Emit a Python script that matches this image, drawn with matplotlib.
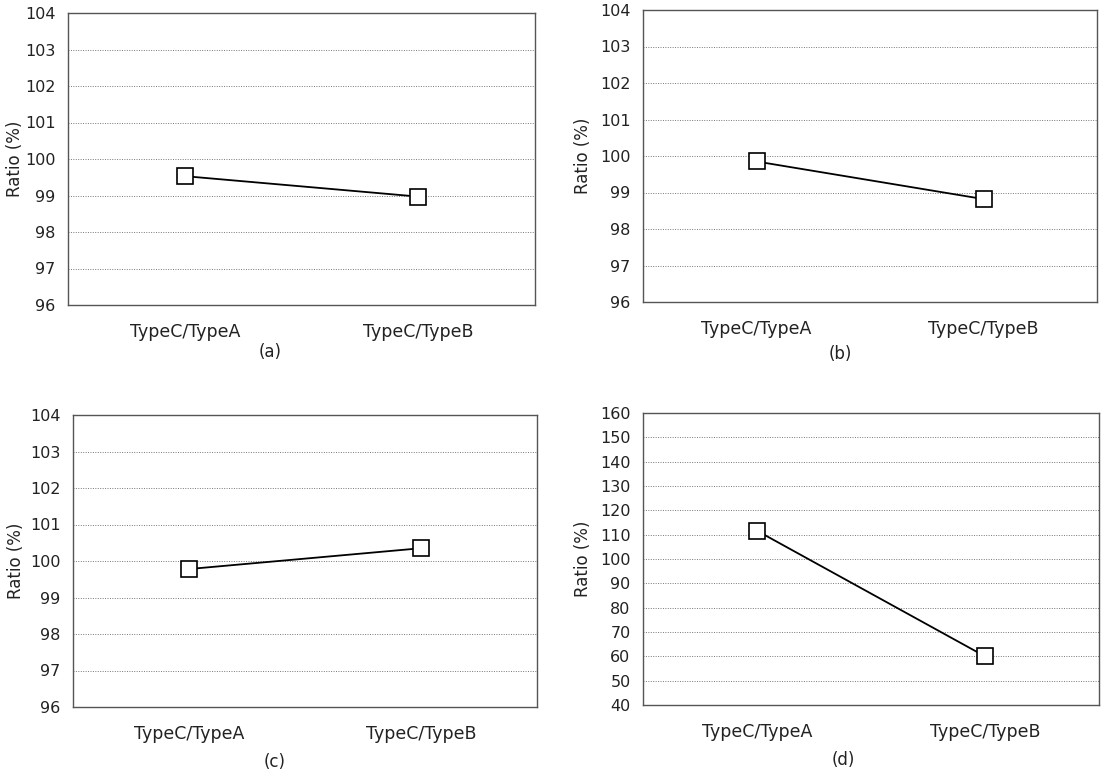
import matplotlib
matplotlib.use("Agg")
import matplotlib.pyplot as plt
import numpy as np

plt.rcParams['font.family'] = ['DejaVu Sans']

categories = ['TypeC/TypeA', 'TypeC/TypeB']
ratio_a = [99.53, 98.97]
ratio_b = [99.85, 98.82]
ratio_c = [99.78, 100.35]
ratio_d = [111.6, 60.0]
captions = ['(a)', '(b)', '(c)', '(d)']

W, H = 1101, 774
fig = plt.figure(figsize=(W / 100, H / 100), dpi=100)


def px_rect(x0, y0, x1, y1):
    # pixel box (top-left origin) -> figure fraction
    return [x0 / W, 1 - y1 / H, (x1 - x0) / W, (y1 - y0) / H]


# rect, values, (ymin, ymax, step), caption position (px), ylabel right edge x (px)
panels = [
    (px_rect(68, 13, 535, 305), ratio_a, (96, 104, 1), (270, 352), 24),
    (px_rect(643, 10, 1097, 302), ratio_b, (96, 104, 1), (840, 354), 592),
    (px_rect(73, 415, 537, 707), ratio_c, (96, 104, 1), (275, 762), 25),
    (px_rect(643, 413, 1099, 705), ratio_d, (40, 160, 10), (843, 760), 592),
]

x = np.arange(len(categories))
for (rect, vals, (lo, hi, step), cap_pos, ylab_x), cap in zip(panels, captions):
    ax = fig.add_axes(rect)
    ax.plot(x, vals, color='black', lw=1.3, marker='s', markersize=12,
            markerfacecolor='white', markeredgecolor='black', markeredgewidth=1.2,
            zorder=3)
    ax.set_xlim(-0.5, 1.5)
    ax.set_ylim(lo, hi)
    ax.set_yticks(np.arange(lo, hi + step / 2, step))
    ax.set_xticks(x)
    ax.set_xticklabels(categories)
    ax.yaxis.grid(True, color='#777777', linestyle=(0, (1, 1.5)), lw=0.7)
    ax.set_axisbelow(True)
    for s in ax.spines.values():
        s.set_color('#555555')
        s.set_linewidth(1.0)
    ax.tick_params(axis='y', length=0, labelsize=11.5, colors='#222222', pad=9)
    ax.tick_params(axis='x', length=0, labelsize=12.5, colors='#222222', pad=13)
    ax.set_ylabel('Ratio (%)', fontsize=12, color='#222222')
    left_px = rect[0] * W
    width_px = rect[2] * W
    ax.yaxis.set_label_coords((ylab_x - left_px) / width_px, 0.5)
    fig.text(cap_pos[0] / W, 1 - cap_pos[1] / H, cap, ha='center', va='center',
             fontsize=12, color='#222222')

fig.savefig('out.png', dpi=100)
